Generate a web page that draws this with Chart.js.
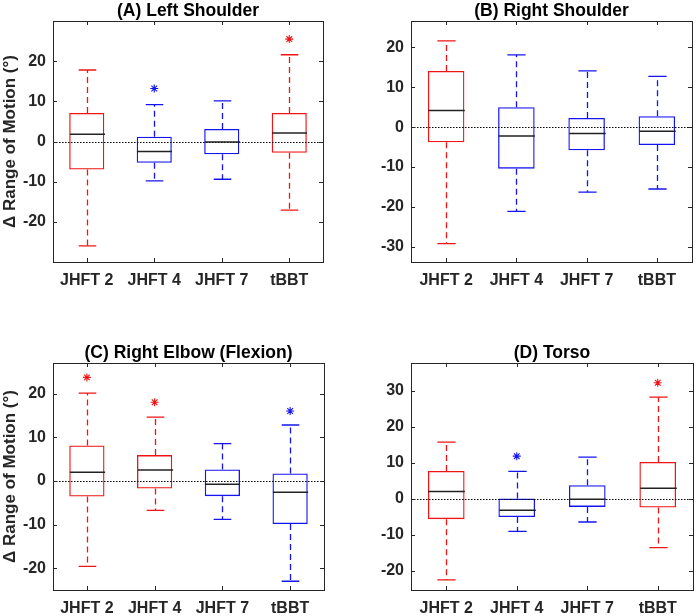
<!DOCTYPE html>
<html>
<head>
<meta charset="utf-8">
<script src="https://cdn.jsdelivr.net/npm/chart.js@4.4.0/dist/chart.umd.min.js"></script>
<style>
  body { margin: 0; background: #fff; }
  #wrap { position: relative; width: 700px; height: 616px; }
  canvas { position: absolute; }
</style>
</head>
<body>
<div id="wrap">
  <canvas id="chartA" width="350" height="306" style="left:0;top:0"></canvas>
  <canvas id="chartB" width="350" height="306" style="left:350px;top:0"></canvas>
  <canvas id="chartC" width="350" height="310" style="left:0;top:306px"></canvas>
  <canvas id="chartD" width="350" height="310" style="left:350px;top:306px"></canvas>
</div>
<script>
const categories = ["JHFT 2", "JHFT 4", "JHFT 7", "tBBT"];

// (A) Left Shoulder
const upperA = [17.8, 9.2, 10.1, 21.6];
const q3A = [7.1, 1.2, 3.1, 7.1];
const medianA = [1.8, -2.5, -0.1, 2.1];
const q1A = [-7.0, -5.3, -3.2, -2.8];
const lowerA = [-26.0, -9.8, -9.4, -17.1];
const outlierA = [null, 13.2, null, 25.5];
const ticksA = [-20, -10, 0, 10, 20];

// (B) Right Shoulder
const upperB = [21.6, 18.1, 14.1, 12.7];
const q3B = [14.1, 5.0, 2.3, 2.75];
const medianB = [4.2, -2.25, -1.6, -1.0];
const q1B = [-3.8, -10.4, -5.8, -4.5];
const lowerB = [-29.2, -21.1, -16.3, -15.5];
const outlierB = [null, null, null, null];
const ticksB = [-30, -20, -10, 0, 10, 20];

// (C) Right Elbow (Flexion)
const upperC = [20.1, 14.6, 8.55, 12.8];
const q3C = [8.1, 5.9, 2.6, 1.7];
const medianC = [2.0, 2.5, -0.8, -2.6];
const q1C = [-3.6, -1.75, -3.5, -9.9];
const lowerC = [-19.6, -6.75, -8.8, -23.0];
const outlierC = [23.7, 18.0, null, 16.0];
const ticksC = [-20, -10, 0, 10, 20];

// (D) Torso
const upperD = [15.7, 7.6, 11.55, 28.2];
const q3D = [7.7, 0, 3.7, 10.2];
const medianD = [1.95, -3.2, -0.2, 2.9];
const q1D = [-5.7, -5.1, -2.3, -2.5];
const lowerD = [-22.6, -9.1, -6.5, -13.6];
const outlierD = [null, 11.8, null, 32.2];
const ticksD = [-20, -10, 0, 10, 20, 30];

const RED = "#f01414";
const BLUE = "#1414f0";
const AXIS = "#262626";
const FONT = "'Liberation Sans', Arial, sans-serif";

// draws whiskers, caps, medians, zero line, frame and title
const boxPlugin = {
  id: "boxWhiskers",
  afterDatasetsDraw(chart, args, opts) {
    const { ctx, chartArea: a } = chart;
    const x = chart.scales.x, y = chart.scales.y;
    const bars = chart.getDatasetMeta(0).data;
    ctx.save();

    // dotted zero line
    ctx.strokeStyle = "#000";
    ctx.lineWidth = 1;
    ctx.setLineDash([1.5, 1.5]);
    const y0 = Math.round(y.getPixelForValue(0)) + 0.5;
    ctx.beginPath();
    ctx.moveTo(a.left, y0);
    ctx.lineTo(a.right, y0);
    ctx.stroke();

    bars.forEach((bar, i) => {
      const cx = Math.round(x.getPixelForValue(i)) + 0.5;
      const half = bar.width / 2;
      const col = opts.colors[i];
      const yUp = y.getPixelForValue(opts.upper[i]);
      const yQ3 = y.getPixelForValue(opts.q3[i]);
      const yQ1 = y.getPixelForValue(opts.q1[i]);
      const yLo = y.getPixelForValue(opts.lower[i]);
      const yMed = y.getPixelForValue(opts.median[i]);

      ctx.strokeStyle = col;
      ctx.lineWidth = 1.3;
      ctx.setLineDash([6, 4]);
      ctx.beginPath();
      ctx.moveTo(cx, yQ3);
      ctx.lineTo(cx, yUp);
      ctx.moveTo(cx, yQ1);
      ctx.lineTo(cx, yLo);
      ctx.stroke();

      ctx.setLineDash([]);
      ctx.beginPath();
      ctx.moveTo(cx - half / 2, yUp);
      ctx.lineTo(cx + half / 2, yUp);
      ctx.moveTo(cx - half / 2, yLo);
      ctx.lineTo(cx + half / 2, yLo);
      ctx.stroke();

      ctx.strokeStyle = "#222";
      ctx.lineWidth = 1.5;
      ctx.beginPath();
      ctx.moveTo(cx - half, yMed);
      ctx.lineTo(cx + half, yMed);
      ctx.stroke();
    });

    // frame with inward ticks
    ctx.setLineDash([]);
    ctx.strokeStyle = AXIS;
    ctx.lineWidth = 1;
    ctx.strokeRect(a.left + 0.5, a.top + 0.5, a.right - a.left, a.bottom - a.top);
    ctx.beginPath();
    y.ticks.forEach((t) => {
      const py = Math.round(y.getPixelForValue(t.value)) + 0.5;
      ctx.moveTo(a.left, py);
      ctx.lineTo(a.left + 4, py);
      ctx.moveTo(a.right, py);
      ctx.lineTo(a.right - 4, py);
    });
    categories.forEach((c, i) => {
      const px = Math.round(x.getPixelForValue(i)) + 0.5;
      ctx.moveTo(px, a.bottom);
      ctx.lineTo(px, a.bottom - 4);
      ctx.moveTo(px, a.top);
      ctx.lineTo(px, a.top + 4);
    });
    ctx.stroke();

    // panel title
    ctx.fillStyle = "#000";
    ctx.font = "bold 17.5px " + FONT;
    ctx.textAlign = "center";
    ctx.textBaseline = "middle";
    ctx.fillText(opts.title, (a.left + a.right) / 2, a.top - 10);
    ctx.restore();
  },
};

function makePanel(id, p) {
  const ctx = document.getElementById(id).getContext("2d");
  const boxes = p.q1.map((v, i) => [v, p.q3[i]]);
  return new Chart(ctx, {
    type: "bar",
    data: {
      labels: categories,
      datasets: [
        {
          data: boxes,
          backgroundColor: "rgba(0,0,0,0)",
          borderColor: p.colors,
          borderWidth: 1.3,
          borderSkipped: false,
          barPercentage: 0.52,
          categoryPercentage: 1,
        },
        {
          type: "line",
          data: p.outliers,
          showLine: false,
          pointStyle: "star",
          pointRadius: 4,
          pointBorderWidth: 1.1,
          pointBorderColor: p.colors,
          pointBackgroundColor: p.colors,
        },
      ],
    },
    options: {
      responsive: false,
      animation: false,
      layout: {
        padding: { left: 0, top: p.plot.top, right: p.w - p.plot.right, bottom: 0 },
      },
      plugins: {
        legend: { display: false },
        tooltip: { enabled: false },
        boxWhiskers: {
          title: p.title,
          colors: p.colors,
          upper: p.upper,
          q3: p.q3,
          median: p.median,
          q1: p.q1,
          lower: p.lower,
        },
      },
      scales: {
        x: {
          offset: true,
          grid: { display: false, drawTicks: false },
          border: { display: false },
          ticks: { color: AXIS, padding: 8.5, font: { family: FONT, size: 16, weight: "bold" } },
          afterFit: (s) => { s.height = p.h - p.plot.bottom; },
        },
        y: {
          min: p.min,
          max: p.max,
          grid: { display: false, drawTicks: false },
          border: { display: false },
          afterBuildTicks: (s) => { s.ticks = p.ticks.map((v) => ({ value: v })); },
          ticks: { color: AXIS, padding: 7, font: { family: FONT, size: 16, weight: "bold" } },
          title: {
            display: p.yTitle,
            text: "\u0394 Range of Motion (\u00b0)",
            color: AXIS,
            padding: { top: 0, bottom: 0 },
            font: { family: FONT, size: 17, weight: "bold" },
          },
          afterFit: (s) => { s.width = p.plot.left; },
        },
      },
    },
    plugins: [boxPlugin],
  });
}

makePanel("chartA", {
  title: "(A) Left Shoulder", yTitle: true, w: 350, h: 306,
  plot: { left: 53, right: 323, top: 21, bottom: 262 },
  min: -30, max: 30, ticks: ticksA,
  colors: [RED, BLUE, BLUE, RED],
  upper: upperA, q3: q3A, median: medianA, q1: q1A, lower: lowerA, outliers: outlierA,
});

makePanel("chartB", {
  title: "(B) Right Shoulder", yTitle: false, w: 350, h: 306,
  plot: { left: 61, right: 342, top: 21, bottom: 262 },
  min: -33.8, max: 26.6, ticks: ticksB,
  colors: [RED, BLUE, BLUE, BLUE],
  upper: upperB, q3: q3B, median: medianB, q1: q1B, lower: lowerB, outliers: outlierB,
});

makePanel("chartC", {
  title: "(C) Right Elbow (Flexion)", yTitle: true, w: 350, h: 310,
  plot: { left: 53, right: 324, top: 57, bottom: 284 },
  min: -25, max: 27, ticks: ticksC,
  colors: [RED, RED, BLUE, BLUE],
  upper: upperC, q3: q3C, median: medianC, q1: q1C, lower: lowerC, outliers: outlierC,
});

makePanel("chartD", {
  title: "(D) Torso", yTitle: false, w: 350, h: 310,
  plot: { left: 61, right: 343, top: 57, bottom: 284 },
  min: -25.4, max: 37.7, ticks: ticksD,
  colors: [RED, BLUE, BLUE, RED],
  upper: upperD, q3: q3D, median: medianD, q1: q1D, lower: lowerD, outliers: outlierD,
});
</script>
</body>
</html>
